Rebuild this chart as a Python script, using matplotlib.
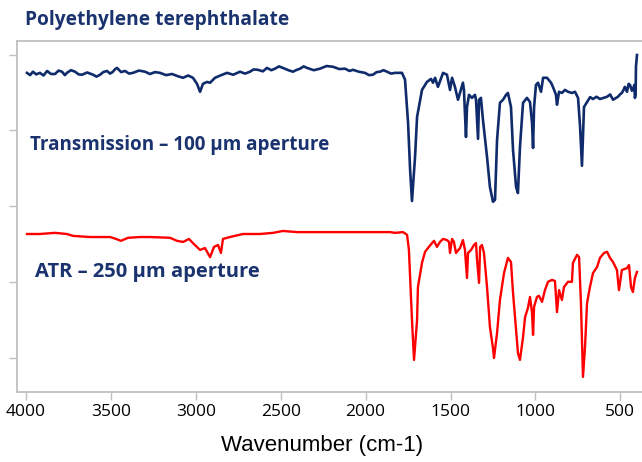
import matplotlib
matplotlib.use("Agg")
import matplotlib.pyplot as plt

# Transmission spectrum (wavenumber cm-1, relative intensity)
trans_wn = [3994, 3976, 3959, 3940, 3918, 3897, 3876, 3853, 3829, 3808, 3788, 3771, 3759, 3735,
            3711, 3690, 3670, 3640, 3605, 3585, 3564, 3545, 3523, 3505, 3488, 3475, 3464, 3440,
            3417, 3393, 3370, 3335, 3299, 3270, 3240, 3211, 3175, 3140, 3105, 3075, 3045, 3017,
            2993, 2975, 2958, 2934, 2916, 2887, 2850, 2816, 2780, 2740, 2710, 2681, 2660, 2634,
            2605, 2581, 2555, 2534, 2510, 2487, 2455, 2428, 2405, 2386, 2365, 2345, 2305, 2269,
            2230, 2192, 2155, 2121, 2095, 2074, 2040, 2004, 1980, 1957, 1935, 1915, 1895, 1874,
            1850, 1827, 1797, 1786, 1768, 1750, 1738, 1727, 1709, 1697, 1668, 1639,
            1615, 1603, 1591, 1574, 1544, 1521, 1503, 1491, 1474, 1456, 1427, 1421, 1409, 1403,
            1391, 1374, 1356, 1350, 1338, 1332, 1321, 1309, 1285, 1268, 1250, 1238, 1226, 1209,
            1191, 1173, 1162, 1144, 1132, 1114, 1103, 1091, 1073, 1050, 1032, 1020, 1014, 1008,
            997, 985, 967, 955, 932, 908, 897, 879, 873, 861, 844, 826, 808, 785, 767, 749, 737,
            726, 714, 696, 678, 661, 640, 620, 598, 578, 560, 543, 528, 514, 500, 491, 480, 473,
            461, 451, 443, 432, 426, 418, 414, 410, 408, 402]
trans_val = [75.2, 74.6, 75.5, 74.8, 75.2, 74.5, 75.7, 74.9, 74.9, 75.8, 75.5, 74.6, 75.2, 75.9,
             75.5, 74.8, 74.7, 75.3, 74.7, 74.2, 74.7, 75.4, 75.7, 75.0, 75.5, 76.2, 76.5, 75.4,
             75.7, 75.0, 75.2, 75.8, 75.5, 74.9, 75.4, 75.2, 74.6, 74.9, 74.3, 73.9, 74.5, 73.9,
             72.3, 70.2, 72.3, 72.8, 72.6, 73.9, 74.6, 75.2, 74.7, 75.5, 75.0, 75.5, 76.1, 76.0,
             75.6, 76.5, 75.9, 76.3, 76.9, 76.5, 75.9, 75.5, 76.0, 76.3, 76.9, 76.5, 75.9, 76.3,
             77.0, 76.8, 76.2, 76.3, 75.7, 76.0, 75.5, 75.2, 74.6, 74.7, 75.4, 75.5, 75.9, 75.5,
             75.0, 75.2, 75.2, 75.2, 73.4, 62.0, 49.6, 41.4, 53.0, 63.6, 70.7, 72.8,
             73.6, 72.6, 73.9, 71.5, 75.2, 74.7, 70.7, 73.9, 71.5, 68.1, 72.6, 70.7, 58.3, 66.2,
             69.4, 68.6, 69.4, 68.1, 57.8, 68.1, 68.6, 62.8, 53.0, 45.1, 41.2, 41.7, 57.5, 67.3,
             68.1, 69.4, 69.9, 66.2, 54.9, 45.1, 43.5, 55.7, 67.3, 68.6, 67.5, 62.0, 55.4, 66.2,
             72.0, 72.6, 70.2, 73.9, 73.9, 72.6, 71.5, 69.4, 66.8, 70.2, 69.9, 70.7, 70.2, 69.9,
             70.2, 68.6, 60.9,
             50.7, 66.2, 67.5, 68.8, 68.3, 68.9, 68.3, 68.6, 68.9, 69.5, 68.1, 68.5, 68.9, 69.6,
             69.9, 70.8, 71.5,
             70.2, 72.3, 72.0, 70.5, 70.7, 72.0, 68.6, 69.5, 76.8, 79.9]

# ATR spectrum
atr_wn = [3994, 3918, 3829, 3759, 3723, 3623, 3505, 3470, 3441, 3399, 3329, 3270, 3152, 3111,
          3075, 3040, 3017, 2975, 2946, 2916, 2893, 2869, 2852, 2840, 2799, 2722, 2622, 2545,
          2487, 2404, 2133, 2110, 1856, 1827, 1780, 1756, 1745, 1727, 1715, 1697, 1692, 1668,
          1650, 1633, 1609, 1597, 1580, 1562, 1544, 1521, 1509, 1503, 1491, 1480, 1468, 1444,
          1427, 1415, 1403, 1397, 1379, 1362, 1350, 1344, 1332, 1326, 1315, 1303, 1285, 1268,
          1250, 1244, 1226, 1209, 1185, 1162, 1144, 1132, 1114, 1103, 1091, 1073, 1061, 1044,
          1032, 1020, 1014, 1008, 991, 979, 961, 944, 926, 902, 885, 873, 861, 844, 832, 808,
          785, 779, 755, 743, 732, 720, 708, 696, 679, 661, 637, 620, 596, 578, 561, 543, 520,
          508, 491, 461, 449, 437, 426, 414, 402]
atr_val = [32.7, 32.7, 33.0, 32.7, 32.2, 31.9, 31.9, 31.4, 30.9, 31.7, 31.9, 31.9, 31.7, 30.9,
           30.6, 31.4, 30.3, 28.5, 29.0, 26.6, 29.3, 29.8, 27.7, 31.4, 31.9, 32.7, 32.7, 33.0,
           33.5, 33.2, 33.2, 33.2, 33.2, 33.0, 33.2, 32.5, 28.5, 10.0, -0.5, 10.0, 18.7, 25.1,
           28.0, 29.0, 30.3, 30.9, 29.3, 30.6, 31.4, 31.1, 30.6, 27.7, 31.4, 30.6, 27.7, 29.0,
           31.1, 28.5, 21.1, 27.7, 28.5, 29.8, 30.3, 25.9, 19.8, 29.3, 29.8, 27.7, 18.7, 8.2,
           2.6, 0.0, 6.6, 15.3, 22.4, 26.4, 25.3, 17.2, 7.4, 1.3, -0.5, 5.5, 10.8, 13.2,
           16.1, 11.9, 6.1, 13.5, 16.1, 16.4, 14.8, 17.9, 20.1, 20.6, 20.3, 12.1, 17.9, 15.3, 18.7, 20.1,
           20.1, 25.1, 27.2, 26.6, 14.5, -5.0, 2.9, 14.5, 18.7, 22.4, 24.0, 26.4, 27.7, 28.0, 26.4, 25.3, 23.2,
           17.9, 23.2, 23.7, 24.5, 18.7, 17.4, 21.1, 22.7]

x_ticks = [4000, 3500, 3000, 2500, 2000, 1500, 1000, 500]
y_ticks = [0, 20, 40, 60, 80]

title = "Polyethylene terephthalate"
label_trans = "Transmission \u2013 100 \u03bcm aperture"
label_atr = "ATR \u2013 250 \u03bcm aperture"
x_label = "Wavenumber (cm-1)"

navy_line = "#0f2b6b"
navy_text = "#1a336f"
grey = "#bfbfbf"

fig = plt.figure(figsize=(6.42, 4.62), dpi=100)
ax = fig.add_axes([17/642, 70/462, 657/642, 351/462])

ax.plot(trans_wn, trans_val, color=navy_line, lw=1.9, solid_joinstyle="round")
ax.plot(atr_wn, atr_val, color="#ff0000", lw=1.7, solid_joinstyle="round")

ax.set_xlim(4053, 184)
ax.set_ylim(-8.97, 83.6)
ax.set_xticks(x_ticks)
ax.set_xticklabels([str(t) for t in x_ticks], fontfamily="Open Sans", fontsize=12.5)
ax.set_yticks(y_ticks)
ax.set_yticklabels([])
for s in ax.spines.values():
    s.set_color(grey)
    s.set_linewidth(1.3)
ax.tick_params(axis="both", direction="out", length=6, width=1, color=grey, pad=3)

fig.text(30/642, (462-145)/462, label_trans, fontfamily="Open Sans", fontweight="bold",
         fontsize=13.6, color=navy_text, va="center", ha="left")
fig.text(35/642, (462-272)/462, label_atr, fontfamily="Open Sans", fontweight="bold",
         fontsize=14.5, color=navy_text, va="center", ha="left")
fig.text(25/642, (462-20)/462, title, fontfamily="Open Sans", fontweight="bold",
         fontsize=13.8, color=navy_text, va="center", ha="left")
fig.text(322/642, (462-445)/462, x_label, fontfamily="Liberation Sans",
         fontsize=16, color="#000000", va="center", ha="center")

fig.savefig("out.png", dpi=100)
